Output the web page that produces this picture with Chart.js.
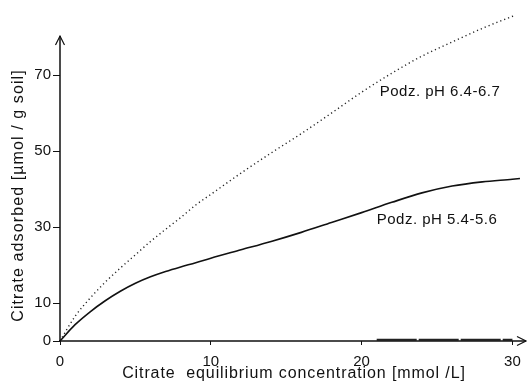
<!DOCTYPE html>
<html>
<head>
<meta charset="utf-8">
<script src="https://cdn.jsdelivr.net/npm/chart.js@4/dist/chart.umd.min.js"></script>
<style>
html,body{margin:0;padding:0;background:#fff;}
#wrap{width:529px;height:382px;}
</style>
</head>
<body>
<div id="wrap"><canvas id="c" width="529" height="382"></canvas></div>
<script>
// Data
const solidX = [0, 1, 2, 3, 4, 5, 6, 7, 8, 9, 10, 12, 14, 16, 18, 20, 22, 24, 26, 28, 30, 30.5];
const solidY = [0, 4.3, 7.7, 10.6, 13.1, 15.2, 16.9, 18.3, 19.5, 20.6, 21.8, 24.0, 26.2, 28.6, 31.2, 33.8, 36.5, 39.0, 40.8, 41.9, 42.6, 42.8];
const dottedX = [0, 1, 2, 3, 4, 5, 6, 7, 8, 9, 10, 12, 14, 16, 18, 20, 22, 24, 26, 28, 30.2];
const dottedY = [0, 6.5, 11.3, 15.5, 19.2, 22.7, 26.2, 29.4, 32.5, 35.8, 38.6, 44.2, 49.5, 54.6, 60.0, 65.5, 70.5, 75.0, 78.7, 82.3, 85.8];
const markX = [21, 30];
const markY = [0.3, 0.3];
const xTicks = [0, 10, 20, 30];
const yTicks = [0, 10, 30, 50, 70];
const seriesNames = ['Podz. pH 6.4-6.7', 'Podz. pH 5.4-5.6'];
const labelAnchors = [[21.2, 65.6], [21.0, 31.9]];
const xTitle = 'Citrate  equilibrium concentration [mmol /L]';
const yTitle = 'Citrate adsorbed [µmol / g soil]';

const pts = (xs, ys) => xs.map((x, i) => ({x: x, y: ys[i]}));
const INK = '#111';
const FONT = 'Liberation Sans';

const axesPlugin = {
  id: 'axesPlugin',
  afterDatasetsDraw(chart) {
    const ctx = chart.ctx;
    const xs = chart.scales.x, ys = chart.scales.y;
    const ca = chart.chartArea;
    const x0 = xs.getPixelForValue(0), y0 = ys.getPixelForValue(0);
    ctx.save();
    ctx.strokeStyle = INK;
    ctx.lineWidth = 1.5;
    ctx.beginPath();
    ctx.moveTo(x0, y0 + 1); ctx.lineTo(x0, ca.top);
    ctx.moveTo(x0 - 1, y0); ctx.lineTo(ca.right, y0);
    ctx.stroke();
    ctx.lineWidth = 1.2;
    ctx.beginPath();
    ctx.moveTo(x0 - 4.5, ca.top + 9); ctx.lineTo(x0, ca.top); ctx.lineTo(x0 + 4.5, ca.top + 9);
    ctx.moveTo(ca.right - 9, y0 - 4.5); ctx.lineTo(ca.right, y0); ctx.lineTo(ca.right - 9, y0 + 4.5);
    ctx.stroke();
    ctx.fillStyle = INK;
    ctx.textBaseline = 'middle';
    // series labels
    ctx.font = '15px "' + FONT + '"';
    ctx.letterSpacing = '0.5px';
    ctx.textAlign = 'left';
    seriesNames.forEach((t, i) => {
      ctx.fillText(t, xs.getPixelForValue(labelAnchors[i][0]), ys.getPixelForValue(labelAnchors[i][1]));
    });
    // axis titles
    ctx.font = '16px "' + FONT + '"';
    ctx.letterSpacing = '0.9px';
    ctx.textAlign = 'center';
    ctx.fillText(xTitle, (ca.left + ca.right) / 2 + 1, chart.height - 8);
    ctx.translate(19, (ca.top + ca.bottom) / 2 + 7);
    ctx.rotate(-Math.PI / 2);
    ctx.letterSpacing = '1.1px';
    ctx.fillText(yTitle, 0, 0);
    ctx.restore();
  }
};

new Chart(document.getElementById('c'), {
  type: 'line',
  data: {
    datasets: [
      {
        label: seriesNames[0],
        data: pts(dottedX, dottedY),
        borderColor: '#222',
        borderWidth: 1.4,
        borderDash: [1.2, 3],
        borderCapStyle: 'butt',
        pointRadius: 0,
        cubicInterpolationMode: 'monotone',
        clip: false
      },
      {
        label: seriesNames[1],
        data: pts(solidX, solidY),
        borderColor: '#111',
        borderWidth: 1.6,
        pointRadius: 0,
        cubicInterpolationMode: 'monotone',
        clip: false
      },
      {
        label: 'mark',
        data: pts(markX, markY),
        borderColor: '#222',
        borderWidth: 2,
        borderDash: [40, 2],
        pointRadius: 0,
        clip: false
      }
    ]
  },
  options: {
    responsive: false,
    animation: false,
    devicePixelRatio: 1,
    layout: {padding: {left: 0, top: 36, right: 3, bottom: 0}},
    plugins: {legend: {display: false}, tooltip: {enabled: false}},
    scales: {
      x: {
        type: 'linear',
        min: 0,
        max: 30.9,
        afterBuildTicks(s) { s.ticks = xTicks.map(v => ({value: v})); },
        afterFit(s) { s.height = 41; },
        grid: {drawOnChartArea: false, drawTicks: true, tickLength: 4, color: INK, lineWidth: 1},
        border: {display: false},
        ticks: {color: INK, font: {family: FONT, size: 15}, padding: 8, maxRotation: 0, autoSkip: false},
        title: {display: false}
      },
      y: {
        type: 'linear',
        min: 0,
        max: 80.3,
        afterBuildTicks(s) { s.ticks = yTicks.map(v => ({value: v})); },
        afterFit(s) { s.width = 60; },
        grid: {drawOnChartArea: false, drawTicks: true, tickLength: 7, color: INK, lineWidth: 1},
        border: {display: false},
        ticks: {color: INK, font: {family: FONT, size: 15}, padding: 2, autoSkip: false},
        title: {display: false}
      }
    }
  },
  plugins: [axesPlugin]
});
</script>
</body>
</html>
